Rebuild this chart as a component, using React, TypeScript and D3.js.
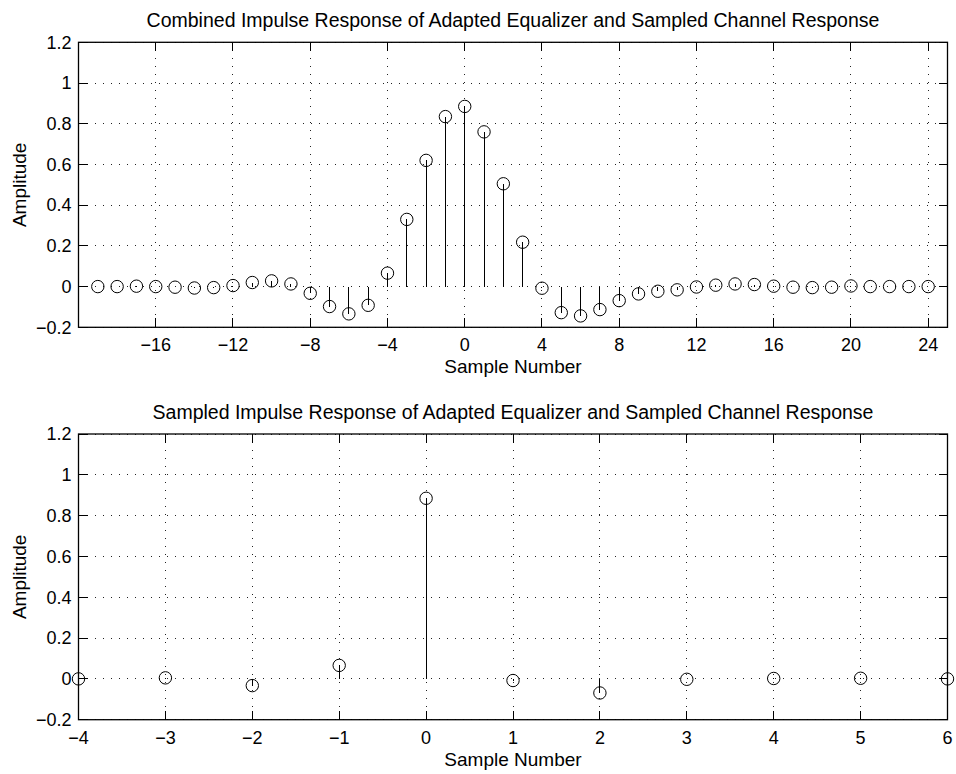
import React from "react";
import * as d3 from "d3";

// Combined response: sample index and amplitude
const combinedSamples = [
  -19, -18, -17, -16, -15, -14, -13, -12, -11, -10, -9, -8, -7, -6, -5, -4, -3, -2, -1,
  0, 1, 2, 3, 4, 5, 6, 7, 8, 9, 10, 11, 12, 13, 14, 15, 16, 17, 18, 19, 20, 21, 22, 23, 24,
];
const combinedValues = [
  0, 0, 0.002, 0, -0.003, -0.007, -0.005, 0.005, 0.02, 0.028, 0.013, -0.033, -0.098, -0.134,
  -0.092, 0.066, 0.33, 0.62, 0.835, 0.885, 0.76, 0.505, 0.218, -0.008, -0.128, -0.144,
  -0.113, -0.069, -0.036, -0.023, -0.016, -0.002, 0.007, 0.013, 0.01, 0.002, -0.003,
  -0.005, -0.003, 0.003, 0, 0, 0, 0,
];

// Sampled response (symbol-spaced)
const sampledSamples = [-4, -3, -2, -1, 0, 1, 2, 3, 4, 5, 6];
const sampledValues = [0, 0.005, -0.033, 0.066, 0.885, -0.008, -0.069, -0.002, 0.002, 0.003, 0];

const combinedXTicks = [-16, -12, -8, -4, 0, 4, 8, 12, 16, 20, 24];
const sampledXTicks = [-4, -3, -2, -1, 0, 1, 2, 3, 4, 5, 6];
const yTicks = [-0.2, 0, 0.2, 0.4, 0.6, 0.8, 1, 1.2];

const FONT = "'Liberation Sans', Arial, Helvetica, sans-serif";
const fmt = (v: number) => {
  const s = String(Math.round(v * 10) / 10);
  return s.replace("-", "\u2212");
};

type PanelProps = {
  top: number;
  bottom: number;
  left: number;
  right: number;
  xDomain: [number, number];
  xTicks: number[];
  xs: number[];
  ys: number[];
  title: string;
};

function StemPanel({ top, bottom, left, right, xDomain, xTicks, xs, ys, title }: PanelProps) {
  const x = d3.scaleLinear().domain(xDomain).range([left, right]);
  const y = d3.scaleLinear().domain([-0.2, 1.2]).range([bottom, top]);
  const tickLen = 9;
  const gridStyle = {
    stroke: "#222",
    strokeWidth: 1,
    strokeDasharray: "1 7",
    shapeRendering: "crispEdges" as const,
  };
  const midX = (left + right) / 2;
  const midY = (top + bottom) / 2;
  return (
    <g>
      {/* dotted grid */}
      {xTicks.map((t) => (
        <line key={"gx" + t} x1={x(t)} x2={x(t)} y1={top} y2={bottom} {...gridStyle} />
      ))}
      {yTicks.map((t) => (
        <line key={"gy" + t} x1={left} x2={right} y1={y(t)} y2={y(t)} {...gridStyle} />
      ))}

      {/* stems and markers */}
      {xs.map((s, i) => (
        <g key={"s" + s}>
          <line
            x1={x(s)}
            x2={x(s)}
            y1={y(0)}
            y2={y(ys[i])}
            stroke="#000"
            strokeWidth={1}
            shapeRendering="crispEdges"
          />
          <circle cx={x(s)} cy={y(ys[i])} r={6.2} fill="none" stroke="#000" strokeWidth={1} />
        </g>
      ))}

      {/* axes box with inward ticks */}
      <rect
        x={left}
        y={top}
        width={right - left}
        height={bottom - top}
        fill="none"
        stroke="#000"
        strokeWidth={1.3}
      />
      {xTicks.map((t) => (
        <g key={"tx" + t}>
          <line x1={x(t)} x2={x(t)} y1={bottom} y2={bottom - tickLen} stroke="#000" shapeRendering="crispEdges" />
          <line x1={x(t)} x2={x(t)} y1={top} y2={top + tickLen} stroke="#000" shapeRendering="crispEdges" />
          <text x={x(t)} y={bottom + 24} textAnchor="middle" fontSize={18} fontFamily={FONT} fill="#000">
            {fmt(t)}
          </text>
        </g>
      ))}
      {yTicks.map((t) => (
        <g key={"ty" + t}>
          <line x1={left} x2={left + tickLen} y1={y(t)} y2={y(t)} stroke="#000" shapeRendering="crispEdges" />
          <line x1={right} x2={right - tickLen} y1={y(t)} y2={y(t)} stroke="#000" shapeRendering="crispEdges" />
          <text x={left - 7} y={y(t)} dy="0.35em" textAnchor="end" fontSize={18} fontFamily={FONT} fill="#000">
            {fmt(t)}
          </text>
        </g>
      ))}

      <text x={midX} y={top - 15} textAnchor="middle" fontSize={19.5} fontFamily={FONT} fill="#000">
        {title}
      </text>
      <text x={midX} y={bottom + 46} textAnchor="middle" fontSize={19} fontFamily={FONT} fill="#000">
        Sample Number
      </text>
      <text
        transform={`translate(26,${midY}) rotate(-90)`}
        textAnchor="middle"
        fontSize={19}
        fontFamily={FONT}
        fill="#000"
      >
        Amplitude
      </text>
    </g>
  );
}

export default function App() {
  const left = 78.5;
  const right = 947.5;
  return (
    <svg
      width={956}
      height={774}
      style={{ position: "absolute", left: 0, top: 0, background: "#fff" }}
    >
      <rect width={956} height={774} fill="#fff" />
      <StemPanel
        top={42.3}
        bottom={327.3}
        left={left}
        right={right}
        xDomain={[-20, 25]}
        xTicks={combinedXTicks}
        xs={combinedSamples}
        ys={combinedValues}
        title="Combined Impulse Response of Adapted Equalizer and Sampled Channel Response"
      />
      <StemPanel
        top={434}
        bottom={719.7}
        left={left}
        right={right}
        xDomain={[-4, 6]}
        xTicks={sampledXTicks}
        xs={sampledSamples}
        ys={sampledValues}
        title="Sampled Impulse Response of Adapted Equalizer and Sampled Channel Response"
      />
    </svg>
  );
}
